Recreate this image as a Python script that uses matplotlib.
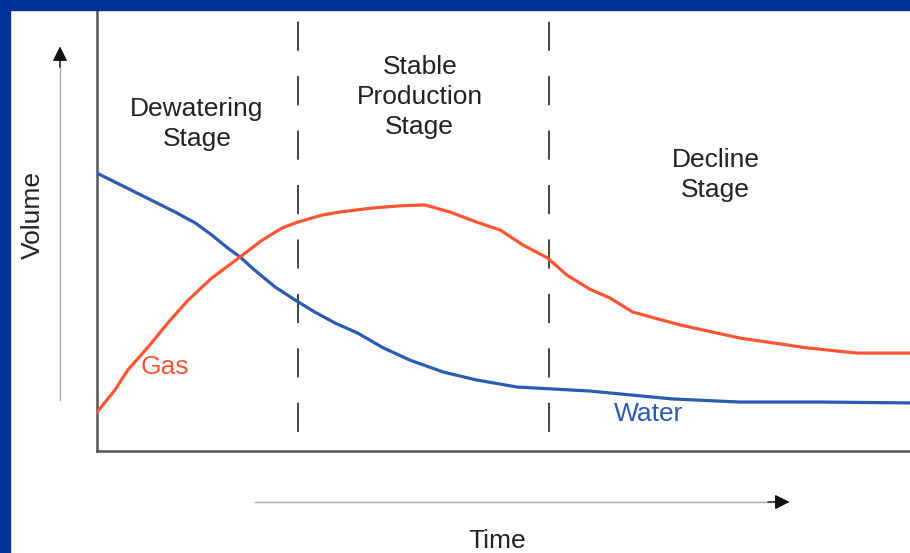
import matplotlib
matplotlib.use("Agg")
import matplotlib.pyplot as plt
from matplotlib.patches import Rectangle
from matplotlib.lines import Line2D

plt.rcParams['font.family'] = ['Liberation Sans', 'DejaVu Sans']

# values (time and volume, 0-100 scale)
water_t = [0, 2.2, 4.7, 7.1, 9.6, 12.1, 14.1, 16.1, 17.6, 19.4, 21.9, 24.4, 26.8, 29.3,
           32.0, 35.2, 38.5, 42.6, 46.7, 51.7, 55.7, 60.6, 70.8, 79.1, 89.3, 100]
water_v = [63.0, 61.0, 58.7, 56.5, 54.2, 51.7, 49.0, 46.0, 44.0, 41.0, 37.2, 34.2, 31.5, 29.0,
           26.8, 23.4, 20.6, 17.9, 16.1, 14.5, 14.1, 13.6, 11.8, 11.1, 11.1, 10.9]
gas_t = [0, 2.2, 3.8, 6.3, 8.7, 11.2, 14.1, 17.6, 20.3, 22.8, 24.7, 27.7, 29.9, 33.9, 37.3,
         40.3, 43.4, 46.7, 49.6, 52.4, 55.4, 57.8, 60.6, 63.1, 65.9, 71.7, 79.1, 87.3, 93.5, 100]
gas_v = [8.8, 13.8, 18.4, 23.6, 29.0, 34.2, 39.2, 44.0, 47.8, 50.6, 51.9, 53.5, 54.2, 55.1, 55.6,
         55.8, 54.2, 51.9, 50.1, 46.7, 43.8, 39.9, 36.7, 34.7, 31.5, 28.6, 25.6, 23.4, 22.2, 22.2]
stage_bounds = [24.7, 55.6]
stage_names = ["Dewatering\nStage", "Stable\nProduction\nStage", "Decline\nStage"]

red = "#ff5533"
blue = "#2b5bb0"
navy = "#003399"

fig = plt.figure(figsize=(9.1, 5.53), dpi=100)
W, H = 910.0, 553.0

# navy frame along top and left edge
fig.patches.append(Rectangle((0, 1 - 10 / H), 1, 10 / H, transform=fig.transFigure,
                             color=navy, zorder=0))
fig.patches.append(Rectangle((0, 0), 10 / W, 1, transform=fig.transFigure,
                             color=navy, zorder=0))

ax = fig.add_axes([97 / W, (H - 451) / H, (W - 97) / W, (451 - 10) / H])
ax.set_xlim(0, 100)
ax.set_ylim(0, 100)
ax.set_xticks([])
ax.set_yticks([])
for s in ["top", "right"]:
    ax.spines[s].set_visible(False)
for s in ["left", "bottom"]:
    ax.spines[s].set_color("#555555")
    ax.spines[s].set_linewidth(1.8)

for b in stage_bounds:
    ax.plot([b, b], [100, 0], color="#444444", lw=1.4,
            linestyle=(22, (15, 13)), zorder=1)

ax.plot(water_t, water_v, color=blue, lw=2.3, solid_joinstyle="round",
        solid_capstyle="round", zorder=3)
ax.plot(gas_t, gas_v, color=red, lw=2.3, solid_joinstyle="round",
        solid_capstyle="round", zorder=3)

# stage labels
fs = 19
ax.text(12.3, 74.1, stage_names[0], ha="center", va="center", fontsize=fs,
        color="#222222", linespacing=1.3)
ax.text(39.7, 80.3, stage_names[1], ha="center", va="center", fontsize=fs,
        color="#222222", linespacing=1.3)
ax.text(76.1, 62.6, stage_names[2], ha="center", va="center", fontsize=fs,
        color="#222222", linespacing=1.3)
ax.text(8.4, 19.0, "Gas", ha="center", va="center", fontsize=fs, color=red)
ax.text(67.8, 8.5, "Water", ha="center", va="center", fontsize=fs, color=blue)

# axis arrows
fig.add_artist(Line2D([60 / W, 60 / W], [1 - 400 / H, 1 - 60 / H],
                      transform=fig.transFigure, color="#aaaaaa", lw=1.0))
fig.add_artist(Line2D([255 / W, 775 / W], [1 - 502 / H, 1 - 502 / H],
                      transform=fig.transFigure, color="#aaaaaa", lw=1.0))
fig.add_artist(plt.annotate("", xy=(60 / W, 1 - 44 / H), xytext=(60 / W, 1 - 70 / H),
                            xycoords="figure fraction", textcoords="figure fraction",
                            arrowprops=dict(arrowstyle="-|>", color="#111111",
                                            mutation_scale=22, lw=0.8)))
fig.add_artist(plt.annotate("", xy=(792 / W, 1 - 502 / H), xytext=(765 / W, 1 - 502 / H),
                            xycoords="figure fraction", textcoords="figure fraction",
                            arrowprops=dict(arrowstyle="-|>", color="#111111",
                                            mutation_scale=22, lw=0.8)))

fig.text(497 / W, 1 - 541 / H, "Time", ha="center", va="center", fontsize=fs,
         color="#222222")
fig.text(33 / W, 1 - 215 / H, "Volume", ha="center", va="center", fontsize=fs,
         color="#222222", rotation=90)

fig.savefig("out.png", dpi=100)
